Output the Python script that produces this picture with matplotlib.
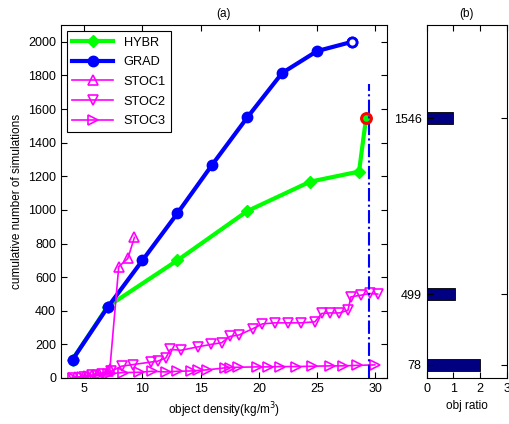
import matplotlib
matplotlib.use("Agg")
import matplotlib.pyplot as plt

plt.rcParams["font.family"] = ["Liberation Sans", "DejaVu Sans"]
plt.rcParams["font.size"] = 8.5

# cumulative simulations vs object density
grad_x = [4, 7, 10, 13, 16, 19, 22, 25, 28]
grad_y = [110, 420, 700, 980, 1270, 1550, 1815, 1945, 2000]

hybr_x = [4, 7, 13, 19, 24.4, 28.6, 29.2]
hybr_y = [110, 425, 700, 993, 1168, 1228, 1546]

stoc1_x = [4.2, 5.0, 5.7, 6.3, 7.0, 7.2, 7.96, 8.74, 9.31]
stoc1_y = [5, 10, 15, 25, 40, 55, 662, 711, 837]

stoc2_x = [4.0, 5.0, 5.7, 6.5, 7.3, 8.2, 9.2, 10.75, 11.3, 12.0, 12.4, 13.3, 14.75,
           15.9, 16.8, 17.5, 18.3, 19.5, 20.3, 21.35, 22.5, 23.6, 24.8, 25.4,
           26.1, 26.9, 27.65, 27.9, 28.8, 29.5, 30.2]
stoc2_y = [0, 5, 15, 25, 40, 70, 80, 95, 100, 119, 170, 165, 185,
           200, 210, 247, 256, 294, 322, 328, 328, 328, 334, 384,
           387, 387, 403, 483, 493, 503, 499]

stoc3_x = [4.0, 4.8, 5.5, 6.2, 7.0, 8.3, 9.7, 10.8, 12.0, 13.0, 14.2, 14.75,
           15.5, 17.05, 17.5, 18.2, 19.8, 20.8, 21.8, 23.2, 24.6, 26.1, 27.2,
           28.4, 29.95]
stoc3_y = [0, 3, 8, 15, 25, 32, 34, 40, 36, 40, 42, 45,
           48, 60, 62, 64, 66, 66, 68, 68, 70, 72, 72, 75, 78]

best_x = 29.2
best_y = 1546
cut_x = 29.45
cut_top = 1750

# obj ratio panel
ratio_levels = [1546, 499, 78]
ratio_values = [1, 1.05, 2]

fig = plt.figure(figsize=(5.09, 4.24), dpi=100)
ax = fig.add_axes([0.1198, 0.1085, 0.6405, 0.8325])
axb = fig.add_axes([0.838, 0.1085, 0.1578, 0.8325])

ax.plot(hybr_x, hybr_y, color="#00ff00", linewidth=3, marker="D",
        markersize=6, label="HYBR")
ax.plot(grad_x, grad_y, color="#0000ff", linewidth=3, marker="o",
        markersize=7.5, label="GRAD")
ax.plot(grad_x[-1], grad_y[-1], linestyle="none", marker="o", markersize=6.5,
        markerfacecolor="white", markeredgecolor="#0000ff", markeredgewidth=2)
ax.plot(stoc1_x, stoc1_y, color="#ff00ff", linewidth=1.2, marker="^",
        markersize=6.5, markerfacecolor="none", markeredgewidth=1.2, label="STOC1")
ax.plot(stoc2_x, stoc2_y, color="#ff00ff", linewidth=1.2, marker="v",
        markersize=6.5, markerfacecolor="none", markeredgewidth=1.2, label="STOC2")
ax.plot(stoc3_x, stoc3_y, color="#ff00ff", linewidth=1.2, marker=">",
        markersize=6.5, markerfacecolor="none", markeredgewidth=1.2, label="STOC3")
ax.plot([cut_x, cut_x], [0, cut_top], color="#0000ff", linewidth=1.5,
        linestyle="-.")
ax.plot(best_x, best_y, linestyle="none", marker="o", markersize=7,
        markerfacecolor="none", markeredgecolor="#ff0000", markeredgewidth=2.2)

ax.set_xlim(3, 31)
ax.set_ylim(0, 2100)
ax.set_xticks([5, 10, 15, 20, 25, 30])
ax.set_yticks(range(0, 2001, 200))
ax.tick_params(direction="in", top=True, right=True, length=4, labelsize=9)
ax.set_xlabel("object density(kg/m$^3$)")
ax.set_ylabel("cumulative number of simulations")
ax.set_title("(a)", fontsize=8.5, pad=6)
leg = ax.legend(loc="upper left", handlelength=3.2, fancybox=False,
                framealpha=1, edgecolor="black", borderaxespad=0.5,
                labelspacing=0.6, fontsize=9.2)
leg.get_frame().set_linewidth(0.8)

axb.barh(ratio_levels, ratio_values, height=70, color="#000080",
         edgecolor="black", linewidth=0.6)
axb.set_xlim(0, 3)
axb.set_ylim(0, 2100)
axb.set_xticks([0, 1, 2, 3])
axb.set_yticks(ratio_levels)
axb.tick_params(direction="in", top=True, right=True, length=4, labelsize=9)
axb.set_xlabel("obj ratio")
axb.set_title("(b)", fontsize=8.5, pad=6)

fig.savefig("out.png", dpi=100)
